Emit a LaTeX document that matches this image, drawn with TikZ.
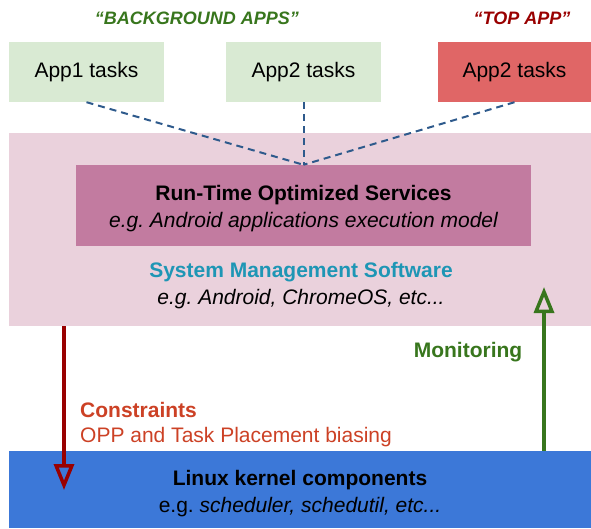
\documentclass[tikz,border=0pt]{standalone}
\usepackage{fontspec}
\setmainfont{Liberation Sans}
\usetikzlibrary{arrows.meta}
\frenchspacing
\definecolor{bggreen}{HTML}{D9EAD3}
\definecolor{topred}{HTML}{E06666}
\definecolor{smspink}{HTML}{EAD1DC}
\definecolor{rtsmauve}{HTML}{C27BA0}
\definecolor{kernelblue}{HTML}{3C78D8}
\definecolor{labelgreen}{HTML}{38761D}
\definecolor{labelred}{HTML}{990000}
\definecolor{smsteal}{HTML}{1E96B5}
\definecolor{constrred}{HTML}{CC4125}
\definecolor{dashblue}{HTML}{2E5A8C}
\tikzset{
  panel/.style={rectangle, inner sep=0pt, draw=none},
  appbox/.style={panel, minimum width=155pt, minimum height=60pt, font=\fontsize{21}{25}\selectfont},
  txt/.style={inner sep=0pt, anchor=base, font=\fontsize{21}{25}\selectfont},
  grouplabel/.style={inner sep=0pt, anchor=base, font=\fontsize{18}{22}\selectfont\bfseries\itshape},
  link/.style={draw=dashblue, line width=2pt, dash pattern=on 7pt off 5pt},
  flow/.style={line width=4pt, -{Triangle[open, length=26pt, width=20pt, line width=3.5pt]}}
}
\begin{document}
\begin{tikzpicture}[x=1pt, y=1pt]
\useasboundingbox (0,0) rectangle (591,528);

% group headings
\node[grouplabel, text=labelgreen] (bglabel) at (197,503.5) {“BACKGROUND APPS”};
\node[grouplabel, text=labelred] (toplabel) at (522,503.5) {“TOP APP”};

% application task boxes
\node[appbox, fill=bggreen] (app1) at (86.5,456) {App1 tasks};
\node[appbox, fill=bggreen] (app2) at (303.5,456) {App2 tasks};
\node[appbox, fill=topred, minimum width=153pt] (app3) at (514.5,456) {App2 tasks};

% system management software layer
\node[panel, fill=smspink, minimum width=582pt, minimum height=193pt] (sms) at (300,298.5) {};
\node[panel, fill=rtsmauve, minimum width=455pt, minimum height=81pt] (rts) at (303.5,322.5) {};
\node[txt, font=\fontsize{21}{25}\selectfont\bfseries] (rtstitle) at (303.5,327.5) {Run-Time Optimized Services};
\node[txt, font=\fontsize{21}{25}\selectfont\itshape] (rtssub) at (303.5,300.5) {e.g. Android applications execution model};
\node[txt, font=\fontsize{21}{25}\selectfont\bfseries, text=smsteal] (smstitle) at (301,250.5) {System Management Software};
\node[txt, font=\fontsize{21}{25}\selectfont\itshape] (smssub) at (301,223.5) {e.g. Android, ChromeOS, etc...};

% kernel layer
\node[panel, fill=kernelblue, minimum width=582pt, minimum height=77pt] (kernel) at (300,38.5) {};
\node[txt, font=\fontsize{21}{25}\selectfont\bfseries] (ktitle) at (300,42.5) {Linux kernel components};
\node[txt] (ksub) at (300,15.5) {e.g. \textit{scheduler, schedutil, etc...}};

% task links into the runtime services
\draw[link] (app1.south) -- (rts.north);
\draw[link] (app2.south) -- (rts.north);
\draw[link] (app3.south) -- (rts.north);

% constraints going down, monitoring going up
\coordinate (downtip) at (64,38);
\coordinate (uptip) at (544,241);
\draw[flow, draw=labelred] (sms.south -| downtip) -- (downtip);
\draw[flow, draw=labelgreen] (kernel.north -| uptip) -- (uptip);

\node[txt, anchor=base west, font=\fontsize{21}{25}\selectfont\bfseries, text=constrred] (constr) at (80,111) {Constraints};
\node[txt, anchor=base west, text=constrred] (constrsub) at (80,85.5) {OPP and Task Placement biasing};
\node[txt, font=\fontsize{21}{25}\selectfont\bfseries, text=labelgreen] (monitor) at (468,171) {Monitoring};
\end{tikzpicture}
\end{document}
